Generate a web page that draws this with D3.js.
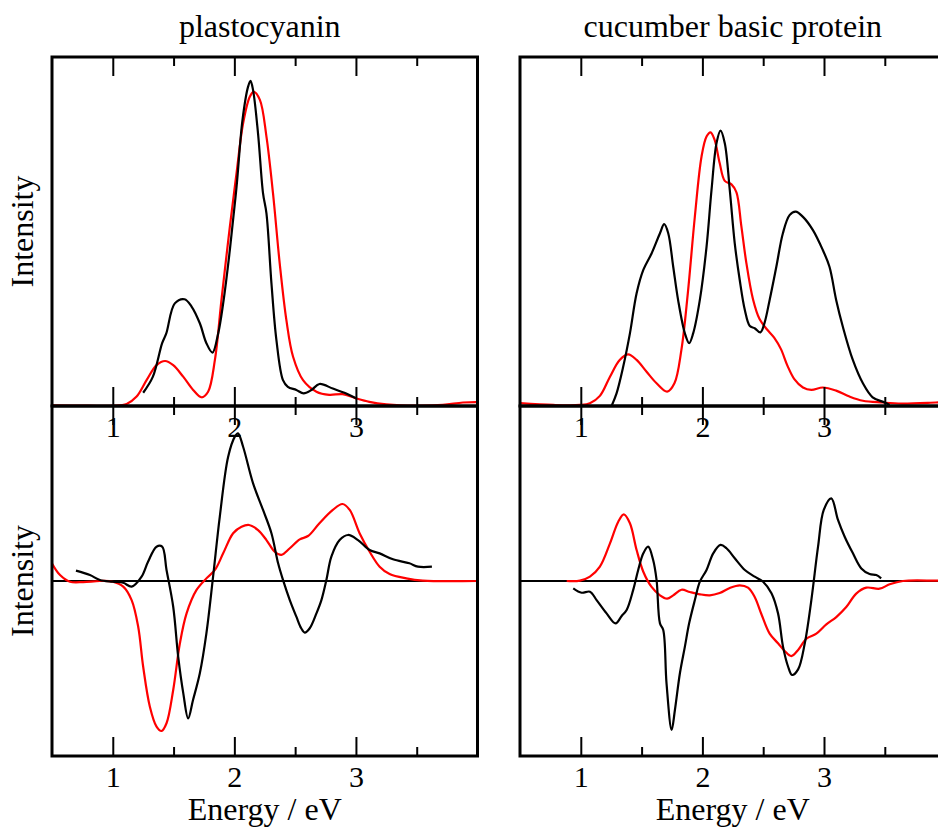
<!DOCTYPE html>
<html>
<head>
<meta charset="utf-8">
<script src="https://cdn.jsdelivr.net/npm/d3@7"></script>
<style>
  html, body { margin: 0; padding: 0; background: #fff; }
  svg { display: block; }
  text { font-family: "Liberation Serif", "Times New Roman", serif; fill: #000; }
</style>
</head>
<body>
<script>
// ---------------- DATA ----------------
const panelTitles = ["plastocyanin", "cucumber basic protein"];
const xLabel = "Energy / eV";
const yLabel = "Intensity";
const majorTicks = [1, 2, 3];
const minorTicks = [1.5, 2.5, 3.5];
const xDomain = [0.5, 4.0];
const absDomain = [0, 1];
const cdDomain = [-1, 1];

// plastocyanin absorption: experiment (black), calculation (red)
const plastoAbsExp = [[1.25,0.038],[1.33,0.084],[1.406,0.18],[1.44,0.208],[1.51,0.294],[1.59,0.306],[1.648,0.285],[1.716,0.237],[1.77,0.18],[1.82,0.153],[1.867,0.208],[1.908,0.294],[1.963,0.447],[2.018,0.628],[2.067,0.82],[2.113,0.915],[2.133,0.932],[2.154,0.905],[2.195,0.78],[2.236,0.609],[2.264,0.552],[2.305,0.352],[2.346,0.189],[2.40,0.074],[2.44,0.055],[2.51,0.046],[2.57,0.036],[2.634,0.046],[2.70,0.063],[2.81,0.05],[2.92,0.036],[3.0,0.022]];
const plastoAbsCalc = [[0.5,0.002],[0.8,0.001],[1.0,0.001],[1.114,0.006],[1.196,0.027],[1.278,0.074],[1.36,0.117],[1.43,0.129],[1.497,0.117],[1.579,0.084],[1.661,0.046],[1.73,0.025],[1.784,0.041],[1.84,0.132],[1.894,0.304],[1.963,0.514],[2.018,0.667],[2.072,0.81],[2.127,0.886],[2.16,0.90],[2.21,0.877],[2.264,0.772],[2.318,0.609],[2.373,0.409],[2.428,0.246],[2.483,0.141],[2.565,0.074],[2.675,0.041],[2.78,0.032],[2.89,0.034],[3.0,0.022],[3.11,0.012],[3.25,0.005],[3.5,0.001],[3.715,0.003],[3.88,0.01],[4.0,0.011]];

// cucumber basic protein absorption
const cbpAbsExp = [[1.253,0.0],[1.294,0.036],[1.349,0.113],[1.404,0.208],[1.459,0.323],[1.514,0.39],[1.582,0.437],[1.651,0.495],[1.686,0.521],[1.719,0.495],[1.76,0.399],[1.80,0.304],[1.856,0.208],[1.891,0.18],[1.924,0.208],[1.979,0.304],[2.034,0.456],[2.075,0.619],[2.116,0.753],[2.149,0.789],[2.184,0.753],[2.225,0.619],[2.266,0.466],[2.307,0.361],[2.349,0.275],[2.39,0.229],[2.43,0.223],[2.477,0.211],[2.51,0.237],[2.553,0.304],[2.608,0.399],[2.662,0.495],[2.717,0.547],[2.767,0.557],[2.827,0.542],[2.909,0.504],[2.99,0.447],[3.045,0.399],[3.1,0.304],[3.155,0.227],[3.237,0.132],[3.32,0.065],[3.40,0.025],[3.499,0.01],[3.54,0.003]];
const cbpAbsCalc = [[0.5,0.008],[0.774,0.003],[0.993,0.003],[1.075,0.008],[1.157,0.029],[1.24,0.084],[1.32,0.132],[1.39,0.148],[1.459,0.132],[1.541,0.098],[1.623,0.065],[1.71,0.041],[1.77,0.065],[1.827,0.16],[1.88,0.323],[1.938,0.543],[1.993,0.715],[2.034,0.772],[2.067,0.784],[2.10,0.763],[2.142,0.696],[2.184,0.645],[2.239,0.635],[2.28,0.612],[2.32,0.516],[2.361,0.411],[2.416,0.306],[2.47,0.249],[2.53,0.22],[2.59,0.196],[2.646,0.163],[2.70,0.115],[2.756,0.077],[2.827,0.053],[2.896,0.046],[2.99,0.053],[3.10,0.044],[3.21,0.027],[3.32,0.015],[3.48,0.01],[3.64,0.007],[3.92,0.01],[4.0,0.011]];

// plastocyanin CD
const plastoCdExp = [[0.697,0.059],[0.812,0.034],[0.894,0.006],[1.0,-0.004],[1.086,-0.01],[1.155,-0.032],[1.237,0.025],[1.29,0.11],[1.36,0.196],[1.406,0.196],[1.442,0.063],[1.497,-0.147],[1.538,-0.432],[1.58,-0.642],[1.62,-0.785],[1.66,-0.68],[1.716,-0.527],[1.77,-0.299],[1.825,0.025],[1.88,0.367],[1.949,0.71],[2.004,0.825],[2.03,0.844],[2.072,0.767],[2.154,0.558],[2.236,0.406],[2.305,0.273],[2.36,0.101],[2.40,0.006],[2.456,-0.109],[2.51,-0.204],[2.55,-0.27],[2.579,-0.295],[2.62,-0.27],[2.675,-0.185],[2.716,-0.109],[2.757,0.006],[2.798,0.139],[2.866,0.234],[2.935,0.263],[3.017,0.234],[3.113,0.177],[3.195,0.158],[3.305,0.124],[3.44,0.101],[3.51,0.082],[3.625,0.082]];
const plastoCdCalc = [[0.5,0.1],[0.566,0.034],[0.648,-0.004],[0.757,-0.006],[0.894,0.0],[1.0,-0.004],[1.086,-0.032],[1.155,-0.109],[1.209,-0.261],[1.25,-0.49],[1.305,-0.718],[1.36,-0.832],[1.401,-0.857],[1.442,-0.813],[1.497,-0.623],[1.552,-0.356],[1.607,-0.185],[1.689,-0.051],[1.77,0.015],[1.84,0.063],[1.908,0.158],[1.99,0.273],[2.059,0.31],[2.121,0.32],[2.195,0.291],[2.264,0.234],[2.332,0.167],[2.387,0.149],[2.456,0.187],[2.538,0.238],[2.606,0.257],[2.70,0.33],[2.81,0.406],[2.889,0.44],[2.949,0.406],[3.03,0.273],[3.113,0.167],[3.195,0.082],[3.277,0.04],[3.414,0.015],[3.55,0.002],[4.0,0.0]];

// cucumber basic protein CD
const cbpCdExp = [[0.938,-0.042],[1.007,-0.067],[1.075,-0.061],[1.13,-0.109],[1.212,-0.185],[1.286,-0.242],[1.336,-0.2],[1.377,-0.166],[1.431,-0.051],[1.472,0.063],[1.514,0.158],[1.554,0.196],[1.595,0.12],[1.623,0.006],[1.651,-0.242],[1.678,-0.28],[1.705,-0.585],[1.747,-0.851],[1.774,-0.737],[1.815,-0.527],[1.856,-0.375],[1.891,-0.242],[1.938,-0.109],[1.979,-0.004],[2.034,0.063],[2.089,0.158],[2.149,0.206],[2.198,0.187],[2.266,0.13],[2.349,0.063],[2.43,0.025],[2.499,-0.004],[2.568,-0.07],[2.622,-0.185],[2.663,-0.375],[2.705,-0.49],[2.737,-0.537],[2.787,-0.505],[2.842,-0.356],[2.896,-0.109],[2.951,0.196],[2.998,0.406],[3.06,0.472],[3.115,0.349],[3.17,0.253],[3.238,0.158],[3.307,0.072],[3.375,0.04],[3.43,0.034],[3.47,0.015]];
const cbpCdCalc = [[0.884,0.0],[0.993,0.002],[1.075,0.025],[1.157,0.082],[1.24,0.215],[1.308,0.339],[1.354,0.381],[1.404,0.33],[1.459,0.177],[1.514,0.053],[1.582,-0.034],[1.651,-0.082],[1.71,-0.101],[1.76,-0.082],[1.828,-0.05],[1.897,-0.063],[1.979,-0.076],[2.061,-0.082],[2.142,-0.069],[2.225,-0.04],[2.307,-0.025],[2.375,-0.038],[2.43,-0.091],[2.484,-0.187],[2.553,-0.301],[2.622,-0.356],[2.677,-0.4],[2.731,-0.429],[2.787,-0.394],[2.855,-0.33],[2.937,-0.301],[3.019,-0.248],[3.101,-0.206],[3.183,-0.149],[3.265,-0.072],[3.348,-0.038],[3.457,-0.044],[3.54,-0.019],[3.649,0.0],[3.923,0.002],[4.0,0.003]];

// ---------------- LAYOUT ----------------
const W = 938, H = 830;
const cols = [{x0: 52, x1: 477.5, titleDx: -5}, {x0: 520, x1: 945.6, titleDx: 0}];
const rows = [{y0: 57, y1: 406}, {y0: 406, y1: 756}];
const font = '"Liberation Serif", "Times New Roman", serif';

const svg = d3.select("body").append("svg").attr("width", W).attr("height", H);

const panels = [
  {c: 0, r: 0, dom: absDomain, exp: plastoAbsExp, calc: plastoAbsCalc},
  {c: 1, r: 0, dom: absDomain, exp: cbpAbsExp, calc: cbpAbsCalc},
  {c: 0, r: 1, dom: cdDomain, exp: plastoCdExp, calc: plastoCdCalc},
  {c: 1, r: 1, dom: cdDomain, exp: cbpCdExp, calc: cbpCdCalc}
];

panels.forEach((p, i) => {
  const col = cols[p.c], row = rows[p.r];
  const x = d3.scaleLinear().domain(xDomain).range([col.x0, col.x1]);
  const y = d3.scaleLinear().domain(p.dom).range([row.y1, row.y0]);
  const g = svg.append("g");

  const clipId = "clip" + i;
  svg.append("clipPath").attr("id", clipId).append("rect")
    .attr("x", col.x0).attr("y", row.y0 - 2).attr("width", col.x1 - col.x0).attr("height", row.y1 - row.y0 + 4);

  const line = d3.line().x(d => x(d[0])).y(d => y(d[1])).curve(d3.curveCatmullRom.alpha(0.5));

  // zero line for CD panels
  if (p.r === 1) {
    g.append("line").attr("x1", col.x0).attr("x2", col.x1).attr("y1", y(0)).attr("y2", y(0))
      .attr("stroke", "#000").attr("stroke-width", 2.2);
  }

  const cg = g.append("g").attr("clip-path", `url(#${clipId})`);
  cg.append("path").datum(p.calc).attr("d", line).attr("fill", "none").attr("stroke", "#ff0000").attr("stroke-width", 2.2);
  cg.append("path").datum(p.exp).attr("d", line).attr("fill", "none").attr("stroke", "#000").attr("stroke-width", 2.2);

  // axes (ticks pointing inward)
  const styleAxis = sel => {
    sel.select(".domain").remove();
    sel.selectAll(".tick line").attr("stroke", "#000").attr("stroke-width", 2);
    sel.selectAll(".tick text").attr("font-family", font).attr("font-size", 30).attr("fill", "#000");
  };
  g.append("g").attr("transform", `translate(0,${row.y1})`)
    .call(d3.axisBottom(x).tickValues(majorTicks).tickSize(-19).tickPadding(10).tickFormat(d3.format("d")))
    .call(styleAxis);
  g.append("g").attr("transform", `translate(0,${row.y1})`)
    .call(d3.axisBottom(x).tickValues(minorTicks).tickSize(-9).tickFormat(""))
    .call(styleAxis);
  g.append("g").attr("transform", `translate(0,${row.y0})`)
    .call(d3.axisTop(x).tickValues(majorTicks).tickSize(-19).tickFormat(""))
    .call(styleAxis);
  g.append("g").attr("transform", `translate(0,${row.y0})`)
    .call(d3.axisTop(x).tickValues(minorTicks).tickSize(-9).tickFormat(""))
    .call(styleAxis);

  // frame
  g.append("rect").attr("x", col.x0).attr("y", row.y0).attr("width", col.x1 - col.x0).attr("height", row.y1 - row.y0)
    .attr("fill", "none").attr("stroke", "#000").attr("stroke-width", 3);

  // y label
  if (p.c === 0) {
    g.append("text").attr("transform", `translate(33,${(row.y0 + row.y1) / 2}) rotate(-90)`)
      .attr("text-anchor", "middle").attr("font-size", 32).text(yLabel);
  }
  // title
  if (p.r === 0) {
    g.append("text").attr("x", (col.x0 + col.x1) / 2 + col.titleDx).attr("y", 37)
      .attr("text-anchor", "middle").attr("font-size", 32).text(panelTitles[p.c]);
  }
  // x label
  if (p.r === 1) {
    g.append("text").attr("x", (col.x0 + col.x1) / 2).attr("y", 820)
      .attr("text-anchor", "middle").attr("font-size", 32).text(xLabel);
  }
});
</script>
</body>
</html>
